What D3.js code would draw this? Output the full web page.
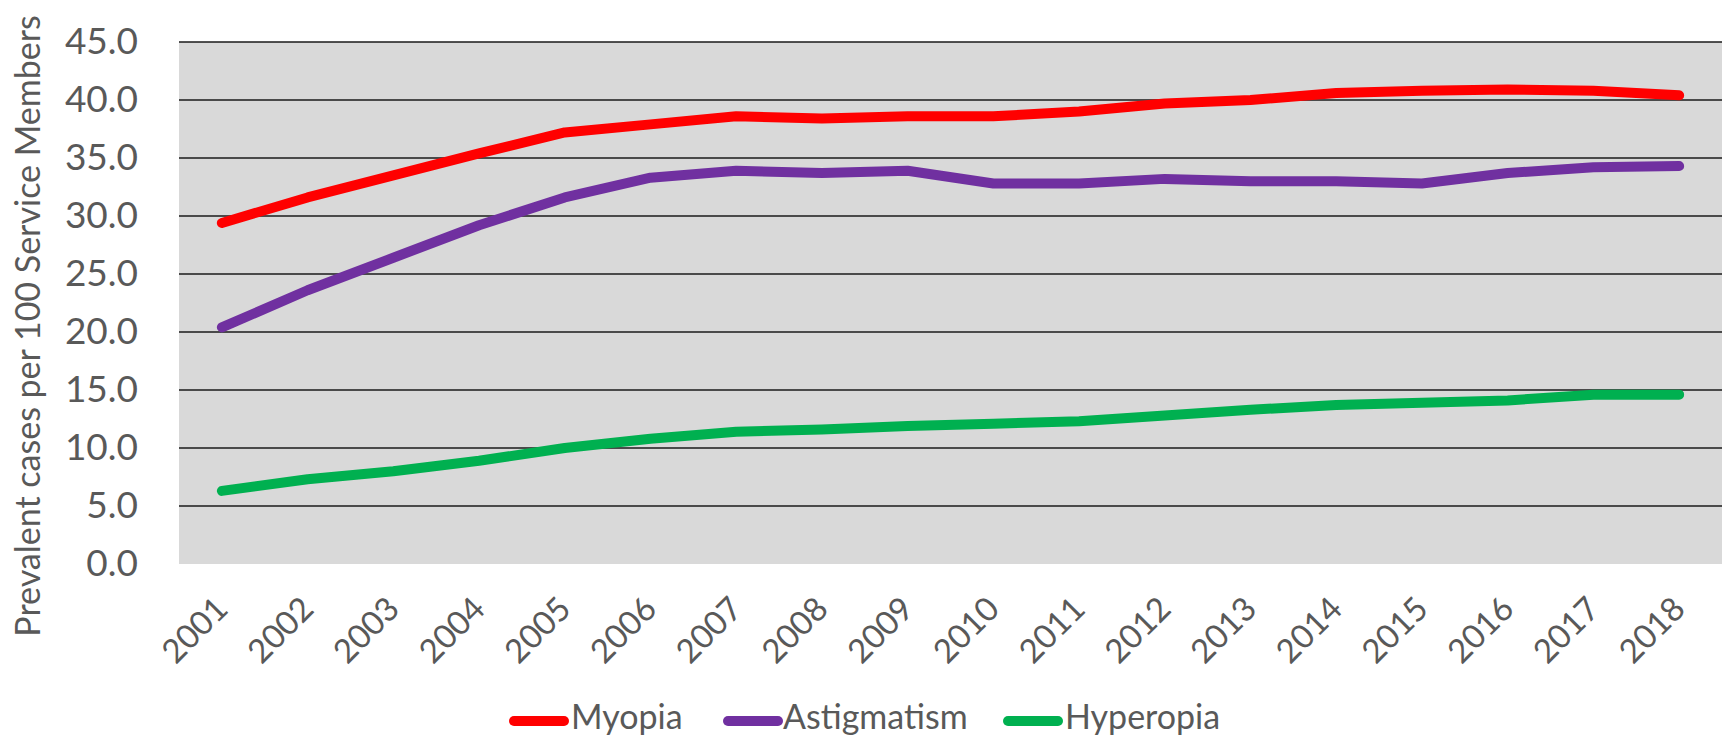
<!DOCTYPE html>
<html><head><meta charset="utf-8">
<script src="https://cdn.jsdelivr.net/npm/d3@7"></script>
<style>body{margin:0;background:#fff}svg{display:block}text{font-family:Lato,"Open Sans",sans-serif;fill:#595959}</style>
</head><body>
<svg id="c" width="1725" height="737"></svg>
<script>
const years = ["2001","2002","2003","2004","2005","2006","2007","2008","2009","2010","2011","2012","2013","2014","2015","2016","2017","2018"];
const myopia = [29.4,31.6,33.5,35.4,37.2,37.9,38.6,38.4,38.6,38.6,39.0,39.7,40.0,40.6,40.8,40.9,40.8,40.4];
const astigmatism = [20.4,23.6,26.4,29.2,31.6,33.3,33.9,33.7,33.9,32.8,32.8,33.2,33.0,33.0,32.8,33.7,34.2,34.3];
const hyperopia = [6.3,7.3,8.0,8.9,10.0,10.8,11.4,11.6,11.9,12.1,12.3,12.8,13.3,13.7,13.9,14.1,14.6,14.6];
const yTicks = [0,5,10,15,20,25,30,35,40,45];
const seriesNames = ["Myopia","Astigmatism","Hyperopia"];
const seriesColors = ["#FF0000","#7030A0","#00B050"];

const series = [myopia, astigmatism, hyperopia];
const svg = d3.select("#c");
const L = 179, R = 1722, T = 42, B = 564;
const x = d3.scaleBand().domain(years).range([L, R]);
const y = d3.scaleLinear().domain([0,45]).range([B, T]);

svg.append("rect").attr("x", L).attr("y", T).attr("width", R-L).attr("height", B-T).attr("fill", "#D9D9D9");

svg.append("g").selectAll("line").data(yTicks.filter(d=>d>0)).join("line")
  .attr("x1", L).attr("x2", R).attr("y1", d=>y(d)).attr("y2", d=>y(d))
  .attr("stroke", "#1a1a1a").attr("stroke-width", 1.3);

const yAxis = svg.append("g").attr("transform", `translate(${L},0)`)
  .call(d3.axisLeft(y).tickValues(yTicks).tickFormat(d3.format(".1f")).tickSize(0).tickPadding(41));
yAxis.select(".domain").remove();
yAxis.selectAll("text").style("font-size","37px").attr("fill","#595959").style("font-family","Lato");

const xAxis = svg.append("g").attr("transform", `translate(0,${B})`)
  .call(d3.axisBottom(x).tickSize(0).tickPadding(0));
xAxis.select(".domain").remove();
xAxis.selectAll("text").style("font-size","33px").attr("fill","#595959").style("font-family","Lato")
  .attr("text-anchor","end").attr("dy",0).attr("y",0)
  .attr("transform","translate(8,47) rotate(-45)");

const line = d3.line().x((d,i)=>x(years[i]) + x.bandwidth()/2).y(d=>y(d));
series.forEach((s,k)=>{
  svg.append("path").datum(s).attr("d", line).attr("fill","none")
    .attr("stroke", seriesColors[k]).attr("stroke-width", 10)
    .attr("stroke-linecap","round").attr("stroke-linejoin","round");
});

svg.append("text").attr("transform", `translate(40,326) rotate(-90)`)
  .attr("text-anchor","middle").style("font-size","34px").text("Prevalent cases per 100 Service Members");

const legX = [514, 728, 1008];
const legTX = [571, 783, 1065];
const lg = svg.append("g");
seriesNames.forEach((n,k)=>{
  lg.append("line").attr("x1", legX[k]).attr("x2", legX[k]+50).attr("y1", 721).attr("y2", 721)
    .attr("stroke", seriesColors[k]).attr("stroke-width", 10).attr("stroke-linecap","round");
  lg.append("text").attr("x", legTX[k]).attr("y", 729).style("font-size","34px").text(n);
});
</script>
</body></html>
